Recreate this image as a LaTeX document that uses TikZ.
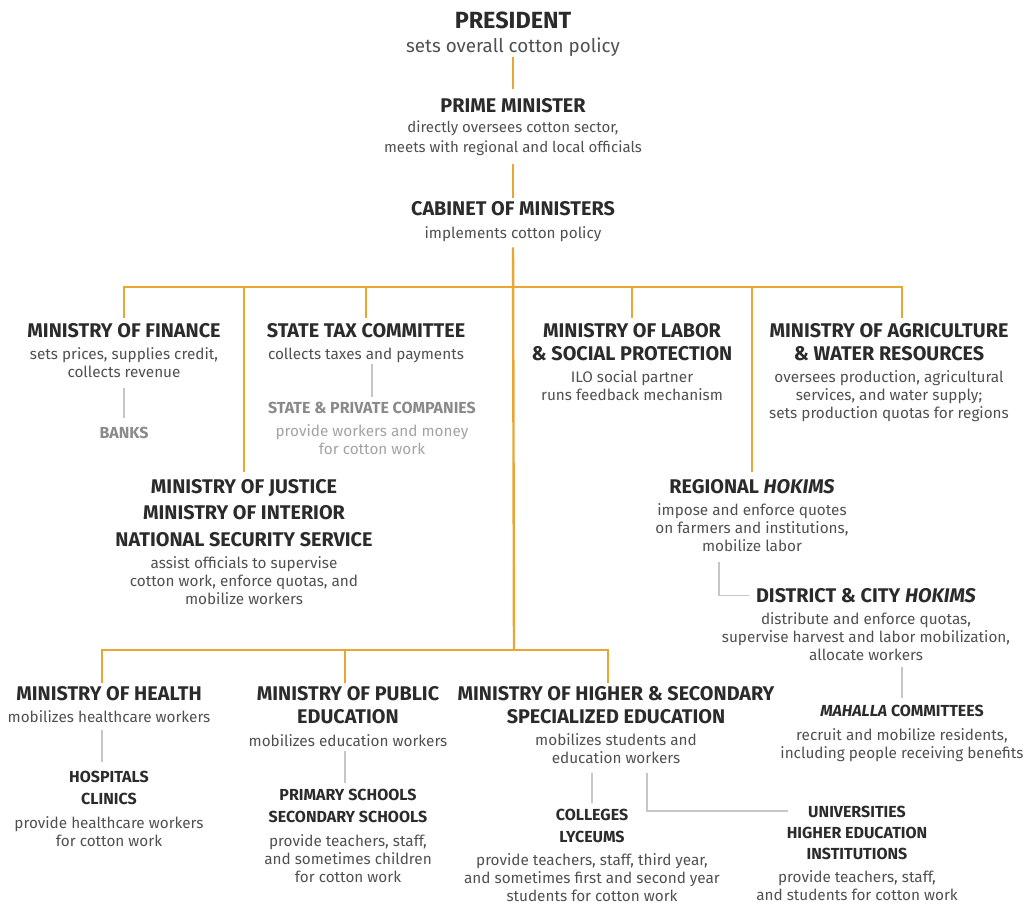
\documentclass[tikz,border=0pt]{standalone}
\usepackage{fontspec}
\setmainfont{Fira Sans}
\usetikzlibrary{positioning}
\definecolor{gold}{HTML}{E9A631}
\definecolor{ink}{HTML}{2B2B2B}
\definecolor{txt}{HTML}{505050}
\definecolor{pale}{HTML}{C6C6C6}
\definecolor{dimhd}{HTML}{8A8A8A}
\definecolor{dimtx}{HTML}{A3A3A3}
\tikzstyle{trunk} = [gold, line width=2.4pt]
\tikzstyle{twig} = [pale, line width=1.3pt]

\begin{document}
\begin{tikzpicture}[x=1pt, y=-1pt]
\tikzset{%
	hd/.style = {inner sep=0pt, outer sep=0pt, align=center, text=ink, anchor=north, font=\fontsize{19.8}{23}\selectfont\bfseries},
	sub/.style = {hd, font=\fontsize{16}{22}\selectfont\bfseries},
	tx/.style = {inner sep=0pt, outer sep=0pt, align=center, text=txt, font=\fontsize{15.3}{18}\selectfont}
}
\useasboundingbox (0,0) rectangle (1027,904);

\node(pr0) [hd, font=\fontsize{23.4}{26}\selectfont\bfseries] at (513,12) {PRESIDENT};
\node(pr1) [tx, font=\fontsize{18.8}{22}\selectfont, below=9pt of pr0] {sets overall cotton policy};

\node(pm0) [hd] at (513,98.2) {PRIME MINISTER};
\node(pm1) [tx, font=\fontsize{15}{20}\selectfont, below=8pt of pm0] {directly oversees cotton sector,\\meets with regional and local officials};

\node(cab0) [hd] at (513,201.2) {CABINET OF MINISTERS};
\node(cab1) [tx, below=11pt of cab0] {implements cotton policy};

\node(fin0) [hd] at (124,323.2) {MINISTRY OF FINANCE};
\node(fin1) [tx, below=10pt of fin0] {sets prices, supplies credit,\\collects revenue};
\node(bank0) [sub, text=dimhd] at (124,427.5) {BANKS};

\node(tax0) [hd] at (366,323.2) {STATE TAX COMMITTEE};
\node(tax1) [tx, below=10pt of tax0] {collects taxes and payments};
\node(com0) [sub, text=dimhd] at (372,402.5) {STATE \& PRIVATE COMPANIES};
\node(com1) [tx, text=dimtx, below=10pt of com0] {provide workers and money\\for cotton work};

\node(lab0) [hd] at (632,323.2) {MINISTRY OF LABOR\\\& SOCIAL PROTECTION};
\node(lab1) [tx, below=10pt of lab0] {ILO social partner\\runs feedback mechanism};

\node(agr0) [hd] at (889,323.2) {MINISTRY OF AGRICULTURE\\\& WATER RESOURCES};
\node(agr1) [tx, below=10pt of agr0] {oversees production, agricultural\\services, and water supply;\\sets production quotas for regions};

\node(jus0) [hd] at (244,479.2) {MINISTRY OF JUSTICE\\[3.5pt]MINISTRY OF INTERIOR\\[3.5pt]NATIONAL SECURITY SERVICE};
\node(jus1) [tx, below=10pt of jus0] {assist officials to supervise\\cotton work, enforce quotas, and\\mobilize workers};

\node(reg0) [hd] at (752,479.2) {REGIONAL \textit{HOKIMS}};
\node(reg1) [tx, below=10pt of reg0] {impose and enforce quotes\\on farmers and institutions,\\mobilize labor};

\node(dis0) [hd] at (866,588.2) {DISTRICT \& CITY \textit{HOKIMS}};
\node(dis1) [tx, below=10pt of dis0] {distribute and enforce quotas,\\supervise harvest and labor mobilization,\\allocate workers};

\node(mah0) [sub] at (902,705.5) {\textit{MAHALLA} COMMITTEES};
\node(mah1) [tx, below=11pt of mah0] {recruit and mobilize residents,\\including people receiving benefits};

\node(hea0) [hd] at (109,686.2) {MINISTRY OF HEALTH};
\node(hea1) [tx, below=10pt of hea0] {mobilizes healthcare workers};
\node(hos0) [sub] at (109,771.5) {HOSPITALS\\CLINICS};
\node(hos1) [tx, below=11pt of hos0] {provide healthcare workers\\for cotton work};

\node(pub0) [hd] at (348,686.2) {MINISTRY OF PUBLIC\\EDUCATION};
\node(pub1) [tx, below=11pt of pub0] {mobilizes education workers};
\node(sch0) [sub] at (348,789.5) {PRIMARY SCHOOLS\\SECONDARY SCHOOLS};
\node(sch1) [tx, below=11pt of sch0] {provide teachers, staff,\\and sometimes children\\for cotton work};

\node(hie0) [hd] at (616,686.2) {MINISTRY OF HIGHER \& SECONDARY\\SPECIALIZED EDUCATION};
\node(hie1) [tx, below=10pt of hie0] {mobilizes students and\\education workers};
\node(col0) [sub] at (592,809.5) {COLLEGES\\LYCEUMS};
\node(col1) [tx, below=10pt of col0] {provide teachers, staff, third year,\\and sometimes first and second year\\students for cotton work};
\node(uni0) [sub, font=\fontsize{16}{21}\selectfont\bfseries] at (857,806.5) {UNIVERSITIES\\HIGHER EDUCATION\\INSTITUTIONS};
\node(uni1) [tx, below=10pt of uni0] {provide teachers, staff,\\and students for cotton work};

\coordinate (bus1) at (514,287);
\coordinate (bus2) at (514,650);
\coordinate (agrx) at (902,287);

\draw [trunk, shorten >=9pt] (pr1.south) -- (pm0.north);
\draw [trunk, shorten <=8.5pt, shorten >=3pt] (pm1.south) -- (cab0.north);
\draw [trunk, shorten <=5.5pt] (cab1.south) -- (bus2);
\draw [trunk, shorten <=5pt, shorten >=5pt] (fin0.north) |- (agrx) -- (agrx |- agr0.north);
\draw [trunk, shorten >=5pt] (bus1 -| tax0) -- (tax0.north);
\draw [trunk, shorten >=5pt] (bus1 -| lab0) -- (lab0.north);
\draw [trunk, shorten >=7pt] (bus1 -| jus0) -- (jus0.north);
\draw [trunk, shorten >=7pt] (bus1 -| reg0) -- (reg0.north);
\draw [trunk, shorten <=3pt, shorten >=3pt] ([xshift=-7pt]hea0.north) |- (bus2) -| ([xshift=-8pt]hie0.north);
\draw [trunk, shorten >=3pt] (bus2 -| pub0) ++(-3pt,0) -- ([xshift=-3pt]pub0.north);

\draw [twig, shorten <=10pt, shorten >=9.5pt] (fin1.south) -- (bank0.north);
\draw [twig, shorten <=1.5pt, shorten >=5.5pt] (tax1.south -| com0) -- (com0.north);
\draw [twig, shorten <=10pt, shorten >=7pt] ([xshift=-33pt]reg1.south) |- (dis0.west);
\draw [twig, shorten <=6pt, shorten >=7.5pt] ([xshift=36pt]dis1.south) -- (mah0.north);
\draw [twig, shorten <=7pt, shorten >=9.5pt] ([xshift=-7pt]hea1.south) -- ([xshift=-7pt]hos0.north);
\draw [twig, shorten <=4pt, shorten >=6.5pt] ([xshift=-3pt]pub1.south) -- ([xshift=-3pt]sch0.north);
\draw [twig, shorten <=9pt, shorten >=6.5pt] (hie1.south -| col0) -- (col0.north);
\draw [twig, shorten <=9pt] ([xshift=31pt]hie1.south) |- ([xshift=-69pt, yshift=-4.5pt]uni0.north);
\end{tikzpicture}
\end{document}
